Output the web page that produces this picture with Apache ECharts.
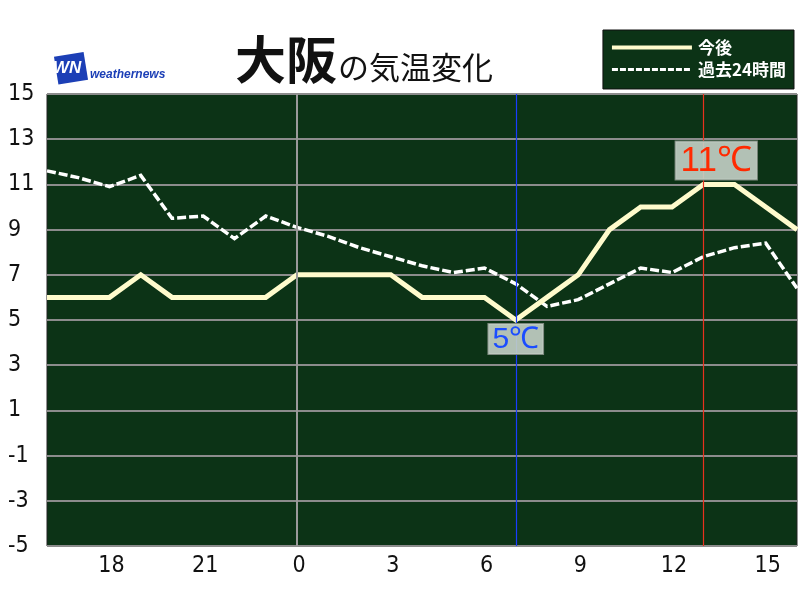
<!DOCTYPE html>
<html>
<head>
<meta charset="utf-8">
<script src="https://cdn.jsdelivr.net/npm/echarts@6/dist/echarts.min.js"></script>
<style>
  html, body { margin: 0; padding: 0; background: #fff; }
  #chart { width: 800px; height: 600px; }
</style>
</head>
<body>
<div id="chart"></div>
<script>
// Hourly clock labels, from 16:00 yesterday to 16:00 today
const hours = [16, 17, 18, 19, 20, 21, 22, 23, 0, 1, 2, 3, 4, 5, 6, 7, 8, 9, 10, 11, 12, 13, 14, 15, 16];
// Forecast temperatures (今後), °C
const forecast = [6, 6, 6, 7, 6, 6, 6, 6, 7, 7, 7, 7, 6, 6, 6, 5, 6, 7, 9, 10, 10, 11, 11, 10, 9];
// Observed temperatures for the past 24 hours (過去24時間), °C
const past = [11.6, 11.3, 10.9, 11.4, 9.5, 9.6, 8.6, 9.6, 9.1, 8.7, 8.2, 7.8, 7.4, 7.1, 7.3, 6.6, 5.6, 5.9, 6.6, 7.3, 7.1, 7.8, 8.2, 8.4, 6.4];
// Temperature axis range and tick step
const yMin = -5, yMax = 15, yStep = 2;

const labelFont = "'Liberation Sans Narrow', 'DejaVu Sans Condensed', Arial, sans-serif";
const cjkFont = "'Noto Sans CJK JP', sans-serif";

const minVal = Math.min(...forecast);
const maxVal = Math.max(...forecast);
const minIdx = forecast.indexOf(minVal);
const maxIdx = forecast.indexOf(maxVal);
const midnightIdx = hours.indexOf(0);

const forecastColor = '#fffbcc';
const pastColor = '#ffffff';

const chart = echarts.init(document.getElementById('chart'), null, { renderer: 'canvas' });

chart.setOption({
  animation: false,
  backgroundColor: '#ffffff',
  title: {
    text: '{a|大阪}{b|の気温変化}',
    left: 230,
    top: 20,
    textStyle: {
      rich: {
        a: { fontFamily: cjkFont, fontSize: 51, fontWeight: 'bold', color: '#111', verticalAlign: 'bottom', lineHeight: 60 },
        b: { fontFamily: cjkFont, fontSize: 31, fontWeight: 'normal', color: '#111', verticalAlign: 'bottom', lineHeight: 52, padding: [0, 0, 2, 1] }
      }
    }
  },
  graphic: [
    {
      type: 'group',
      left: 53,
      top: 52,
      children: [
        { type: 'rect', shape: { x: 3, y: 1, width: 30, height: 28 }, rotation: 0.16, originX: 18, originY: 15, style: { fill: '#1c3fb6' } },
        { type: 'text', x: 0, y: 7, style: { text: 'WN', fill: '#ffffff', font: 'italic bold 17px Arial, sans-serif' } },
        { type: 'text', x: 37, y: 15, style: { text: 'weathernews', fill: '#1c3fb6', font: 'italic 600 12px Arial, sans-serif' } }
      ]
    }
  ],
  legend: {
    data: [
      { name: '今後', lineStyle: { width: 4, color: forecastColor, type: 'solid' } },
      { name: '過去24時間', lineStyle: { width: 3, color: pastColor, type: [6, 2] } }
    ],
    orient: 'vertical',
    right: 6,
    top: 30,
    padding: [9, 8, 11, 7],
    itemGap: 5,
    itemWidth: 80,
    itemHeight: 14,
    backgroundColor: '#0c3316',
    borderColor: '#111',
    borderWidth: 1,
    borderRadius: 0,
    itemStyle: { opacity: 0 },
    textStyle: { color: '#ffffff', fontSize: 17, fontWeight: 'bold', fontFamily: cjkFont, padding: [0, 0, 0, 1] }
  },
  grid: {
    left: 47,
    right: 3,
    top: 94,
    bottom: 54,
    show: true,
    backgroundColor: '#0c3316',
    borderColor: '#222',
    borderWidth: 1
  },
  xAxis: {
    type: 'category',
    boundaryGap: false,
    data: hours.map(String),
    axisLine: { show: false },
    axisTick: { show: false },
    splitLine: { show: false },
    axisLabel: {
      interval: (idx, val) => Number(val) % 3 === 0 && idx > 0 && idx < hours.length - 1,
      color: '#111',
      fontSize: 23,
      fontFamily: labelFont,
      margin: 9,
      padding: [0, 0, 0, 4]
    }
  },
  yAxis: {
    type: 'value',
    min: yMin,
    max: yMax,
    interval: yStep,
    axisLine: { show: false },
    axisTick: { show: false },
    axisLabel: {
      color: '#111',
      fontSize: 23,
      fontFamily: labelFont,
      align: 'left',
      margin: 39
    },
    splitLine: { show: true, lineStyle: { color: '#8c8c8c', width: 2 } }
  },
  series: [
    {
      name: 'guides',
      type: 'line',
      data: [],
      z: 1,
      silent: true,
      markLine: {
        symbol: 'none',
        silent: true,
        label: { show: false },
        data: [
          { xAxis: midnightIdx, lineStyle: { color: '#9a9a9a', width: 2, type: 'solid' } },
          { xAxis: minIdx, lineStyle: { color: '#1a3cff', width: 1.2, type: 'solid' } },
          { xAxis: maxIdx, lineStyle: { color: '#e8321e', width: 1.2, type: 'solid' } }
        ]
      }
    },
    {
      name: '過去24時間',
      type: 'line',
      data: past,
      z: 3,
      showSymbol: false,
      symbol: 'none',
      itemStyle: { color: pastColor },
      lineStyle: { color: pastColor, width: 3.5, type: [9, 3], join: 'miter' }
    },
    {
      name: '今後',
      type: 'line',
      data: forecast,
      z: 4,
      showSymbol: false,
      symbol: 'none',
      itemStyle: { color: forecastColor },
      lineStyle: { color: forecastColor, width: 5, join: 'miter' },
      markPoint: {
        symbol: 'rect',
        symbolSize: 0,
        silent: true,
        data: [
          {
            coord: [minIdx, minVal],
            value: minVal,
            label: {
              show: true,
              position: 'bottom',
              distance: 4,
              formatter: '{c}℃',
              color: '#1b4dff',
              fontSize: 30,
              fontFamily: "Arial, 'Liberation Sans', sans-serif",
              backgroundColor: 'rgba(196,208,198,0.9)',
              borderColor: '#7d8a7f',
              borderWidth: 1,
              padding: [1, 4, 0, 4],
              lineHeight: 29
            }
          },
          {
            coord: [maxIdx, maxVal],
            value: maxVal,
            label: {
              show: true,
              position: 'top',
              distance: 5,
              offset: [13, 0],
              formatter: '{c}℃',
              color: '#ff2a00',
              fontSize: 35,
              fontFamily: "Arial, 'Liberation Sans', sans-serif",
              backgroundColor: 'rgba(196,208,198,0.9)',
              borderColor: '#7d8a7f',
              borderWidth: 1,
              padding: [2, 5, 1, 5],
              lineHeight: 35
            }
          }
        ]
      }
    }
  ]
});
</script>
</body>
</html>
